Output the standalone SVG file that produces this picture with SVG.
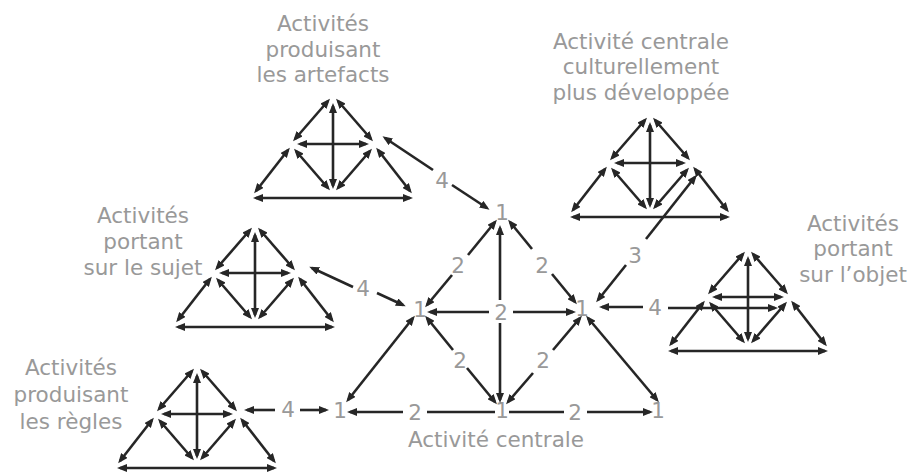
<svg xmlns="http://www.w3.org/2000/svg" xmlns:xlink="http://www.w3.org/1999/xlink" width="913" height="472" viewBox="0 0 913 472">
<style>
  .ln{stroke:#262626;stroke-width:2.6;fill:none}
  .dbl{marker-start:url(#ah);marker-end:url(#ah)}
  .end{marker-end:url(#ah)}
  .lbl{font-family:"DejaVu Sans",Verdana,sans-serif;font-size:21.5px;fill:#999999;text-anchor:middle}
</style>
<defs>
  <marker id="ah" viewBox="0 0 10 8" refX="7" refY="4" markerWidth="10" markerHeight="8" markerUnits="userSpaceOnUse" orient="auto-start-reverse">
    <path d="M0,0L10,4L0,8z" fill="#262626"/>
  </marker>
  <g id="tri" class="ln">
    <line class="dbl" x1="-5" y1="4" x2="-38" y2="42"/>
    <line class="dbl" x1="5" y1="4" x2="38" y2="42"/>
    <line class="dbl" x1="-33" y1="47" x2="33" y2="47"/>
    <line class="dbl" x1="0" y1="9" x2="0" y2="89"/>
    <line class="dbl" x1="-45" y1="53" x2="-77" y2="94"/>
    <line class="dbl" x1="-37" y1="54" x2="-5" y2="91"/>
    <line class="dbl" x1="37" y1="54" x2="5" y2="91"/>
    <line class="dbl" x1="45" y1="53" x2="77" y2="94"/>
    <line class="dbl" x1="-77" y1="101" x2="77" y2="101"/>
  </g>
</defs>
<rect width="913" height="472" fill="#ffffff"/>

<g id="artefacts">
  <use xlink:href="#tri" href="#tri" transform="translate(333,97)"/>
  <text class="lbl" x="323" y="31">Activités</text>
  <text class="lbl" x="323" y="57">produisant</text>
  <text class="lbl" x="323" y="82">les artefacts</text>
</g>

<g id="culturel">
  <use xlink:href="#tri" href="#tri" transform="translate(650,116)"/>
  <text class="lbl" x="641" y="49">Activité centrale</text>
  <text class="lbl" x="641" y="74">culturellement</text>
  <text class="lbl" x="641" y="100">plus développée</text>
</g>

<g id="sujet">
  <use xlink:href="#tri" href="#tri" transform="translate(255,226)"/>
  <text class="lbl" x="143" y="223">Activités</text>
  <text class="lbl" x="143" y="249">portant</text>
  <text class="lbl" x="143" y="275">sur le sujet</text>
</g>

<g id="objet">
  <use xlink:href="#tri" href="#tri" transform="translate(748,250)"/>
  <text class="lbl" x="853" y="231">Activités</text>
  <text class="lbl" x="853" y="256">portant</text>
  <text class="lbl" x="853" y="282">sur l’objet</text>
</g>

<g id="regles">
  <use xlink:href="#tri" href="#tri" transform="translate(197,367)"/>
  <text class="lbl" x="71" y="375">Activités</text>
  <text class="lbl" x="71" y="402">produisant</text>
  <text class="lbl" x="71" y="429">les règles</text>
</g>

<g id="centrale">
  <text class="lbl" x="502" y="220">1</text>
  <text class="lbl" x="420" y="317">1</text>
  <text class="lbl" x="582" y="316">1</text>
  <text class="lbl" x="340" y="418">1</text>
  <text class="lbl" x="502" y="418">1</text>
  <text class="lbl" x="658" y="418">1</text>
  <text class="lbl" x="496" y="447">Activité centrale</text>
</g>

<g id="connectors">
  <g class="ln">
    <line class="end" x1="468" y1="255" x2="495" y2="222"/>
    <line class="end" x1="452" y1="275" x2="427" y2="305"/>
    <line class="end" x1="532" y1="249" x2="510" y2="222"/>
    <line class="end" x1="552" y1="274" x2="575" y2="302"/>
    <line class="end" x1="500" y1="300" x2="500" y2="228"/>
    <line class="end" x1="500" y1="323" x2="500" y2="400"/>
    <line class="end" x1="489" y1="312" x2="430" y2="312"/>
    <line class="end" x1="513" y1="312" x2="573" y2="312"/>
    <line class="dbl" x1="413" y1="318" x2="348" y2="400"/>
    <line class="end" x1="453" y1="350" x2="427" y2="318"/>
    <line class="end" x1="467" y1="368" x2="495" y2="402"/>
    <line class="end" x1="553" y1="350" x2="580" y2="318"/>
    <line class="end" x1="533" y1="373" x2="508" y2="402"/>
    <line class="dbl" x1="588" y1="318" x2="657" y2="400"/>
    <line class="end" x1="403" y1="412" x2="350" y2="412"/>
    <line x1="427" y1="412" x2="495" y2="412"/>
    <line x1="509" y1="412" x2="564" y2="412"/>
    <line class="end" x1="587" y1="412" x2="650" y2="412"/>
    <line class="end" x1="433" y1="170" x2="385" y2="138"/>
    <line class="end" x1="452" y1="185" x2="487" y2="208"/>
    <line class="end" x1="353" y1="287" x2="312" y2="268"/>
    <line class="end" x1="377" y1="293" x2="403" y2="305"/>
    <line class="end" x1="275" y1="410" x2="247" y2="410"/>
    <line class="end" x1="300" y1="410" x2="326" y2="410"/>
    <line class="end" x1="643" y1="307" x2="602" y2="307"/>
    <line class="end" x1="668" y1="308" x2="775" y2="308"/>
    <line class="end" x1="646" y1="239" x2="695" y2="177"/>
    <line class="end" x1="626" y1="265" x2="598" y2="300"/>
  </g>
  <text class="lbl" x="458" y="273">2</text>
  <text class="lbl" x="542" y="273">2</text>
  <text class="lbl" x="501" y="320">2</text>
  <text class="lbl" x="460" y="368">2</text>
  <text class="lbl" x="543" y="368">2</text>
  <text class="lbl" x="415" y="420">2</text>
  <text class="lbl" x="575" y="420">2</text>
  <text class="lbl" x="635" y="263">3</text>
  <text class="lbl" x="442" y="188">4</text>
  <text class="lbl" x="363" y="296">4</text>
  <text class="lbl" x="288" y="417">4</text>
  <text class="lbl" x="655" y="315">4</text>
</g>
</svg>
